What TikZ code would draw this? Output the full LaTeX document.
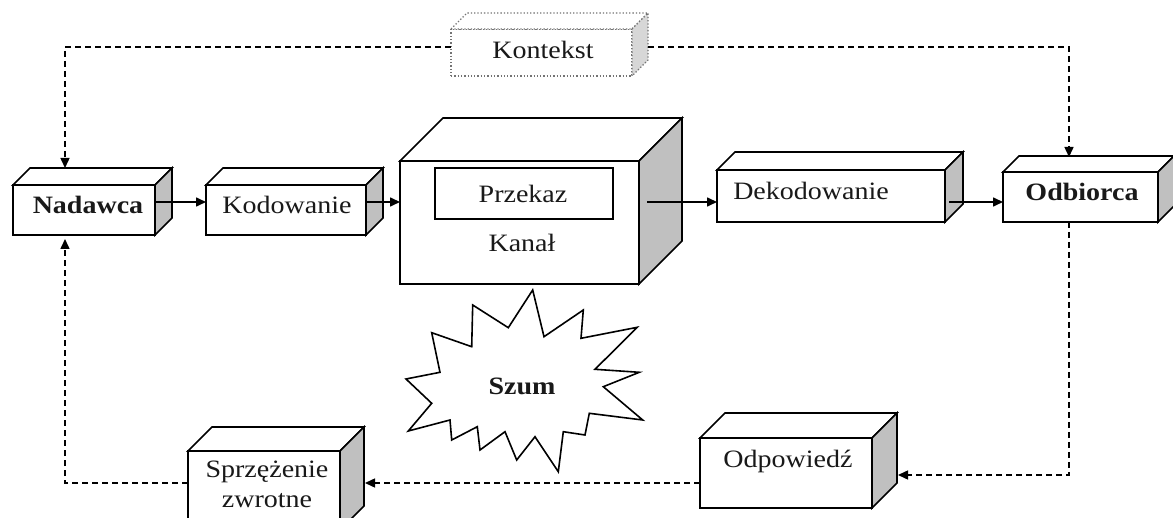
\documentclass[tikz,border=0pt]{standalone}
\usepackage{fontspec}
\setmainfont{Liberation Serif}[FakeStretch=1.12]
\usetikzlibrary{arrows.meta,calc}
\definecolor{sidegray}{RGB}{192,192,192}
\definecolor{ctxgray}{RGB}{215,215,215}
\newcommand\mkdepth[3][]{%
  \draw[edge,fill=white,#1] (#2.north west) -- ++(#3,-#3) -- ($(#2.north east)+(#3,-#3)$) -- (#2.north east) -- cycle;
  \draw[edge,fill=sidegray,#1] (#2.north east) -- ++(#3,-#3) -- ($(#2.south east)+(#3,-#3)$) -- (#2.south east) -- cycle;}
\begin{document}
\begin{tikzpicture}[x=1pt,y=-1pt,
  edge/.style={draw=black,line width=1.6pt,line join=miter},
  front/.style={edge,fill=white,inner sep=0pt,outer sep=0pt},
  ctxedge/.style={draw=black!55,line width=1.3pt,dotted},
  lbl/.style={font=\fontsize{25}{29}\selectfont,anchor=base,inner sep=0pt,text=black!90},
  arr/.style={line width=1.6pt,-{Triangle[length=10pt,width=9pt]}},
  dsh/.style={line width=1.5pt,dash pattern=on 6pt off 4pt},
  darr/.style={dsh,-{Triangle[length=10pt,width=9pt]}}]
\fill[white] (0,0) rectangle (1173,518);
\clip (0,0) rectangle (1173,518);

% Context box
\node[ctxedge,fill=white,inner sep=0pt,outer sep=0pt,minimum width=181pt,minimum height=47pt] (ktx) at (541.5,52.5) {};
\draw[ctxedge,fill=white] (ktx.north west) -- ++(16,-16) -- ($(ktx.north east)+(16,-16)$) -- (ktx.north east) -- cycle;
\draw[ctxedge,fill=ctxgray] (ktx.north east) -- ++(16,-16) -- ($(ktx.south east)+(16,-16)$) -- (ktx.south east) -- cycle;

% Main boxes
\node[front,minimum width=142pt,minimum height=50pt] (nad) at (84,210) {};
\mkdepth{nad}{17}
\node[front,minimum width=160pt,minimum height=50pt] (kod) at (286,210) {};
\mkdepth{kod}{17}
\node[front,minimum width=239pt,minimum height=123pt] (kan) at (519.5,222.5) {};
\mkdepth{kan}{43}
\node[draw=black,line width=1.3pt,inner sep=0pt,outer sep=0pt,minimum width=178pt,minimum height=51pt] (prz) at (524,193.5) {};
\node[front,minimum width=228pt,minimum height=52pt] (dek) at (831,196) {};
\mkdepth{dek}{18}
\node[front,minimum width=155pt,minimum height=50pt] (odb) at (1080.5,197) {};
\mkdepth{odb}{16}
\node[front,minimum width=172pt,minimum height=70pt] (odp) at (786,473) {};
\mkdepth{odp}{25}
\node[front,minimum width=152pt,minimum height=79pt] (spr) at (264,490.5) {};
\mkdepth{spr}{24}

% Noise star
\draw[edge,fill=white] (532.7,290) -- (544,336.7) -- (583.3,310) -- (581,338.3) -- (637.3,327.3) -- (595,369.3) -- (639.3,372.3) -- (603.3,386.7) -- (642.7,420) -- (589.3,413.3) -- (585,435) -- (563.3,431.7) -- (558.3,471.7) -- (535,436.7) -- (516.7,460) -- (505,431.7) -- (480,450) -- (477.3,426.7) -- (451.7,440) -- (450,420) -- (408.3,431) -- (431.7,403.3) -- (406,379) -- (440,372.3) -- (431.7,332.7) -- (471.7,346.7) -- (472.7,305) -- (508.3,327.7) -- cycle;

% Labels
\node[lbl,font=\fontsize{25}{29}\selectfont\bfseries] (tnad) at (88,214) {Nadawca};
\node[lbl] (tkod) at (287,214) {Kodowanie};
\node[lbl] (tprz) at (523,202.7) {Przekaz};
\node[lbl] (tkan) at (522,251.7) {Kanał};
\node[lbl] (tdek) at (811,199.3) {Dekodowanie};
\node[lbl,font=\fontsize{25}{29}\selectfont\bfseries] (todb) at (1082,201) {Odbiorca};
\node[lbl] (tktx) at (543,58.3) {Kontekst};
\node[lbl] (todp) at (788,467.3) {Odpowiedź};
\node[lbl] (tspr) at (267,478) {Sprzężenie};
\node[lbl] (tzwr) at (267,507.3) {zwrotne};
\node[lbl,font=\fontsize{25}{29}\selectfont\bfseries] (tszum) at (522,395) {Szum};

% Connector anchors
\coordinate (row) at (0,202);
\coordinate (ktxL) at ($(ktx.west)+(0,-5.5)$);
\coordinate (ktxR) at ($(ktx.east)+(16,-5.5)$);
\coordinate (nadTop) at ($(nad.north west)+(52,-17)$);
\coordinate (nadBot) at ($(nad.south west)+(52,4)$);
\coordinate (odbTop) at ($(odb.north west)+(66,-15)$);
\coordinate (odbBot) at ($(odb.south west)+(66,0)$);
\coordinate (odpR) at ($(odp.east)+(26,2)$);
\coordinate (odpL) at ($(odp.west)+(0,10)$);
\coordinate (sprR) at ($(spr.east)+(25,-7.5)$);
\coordinate (sprL) at ($(spr.west)+(0,-7.5)$);

% Solid flow
\draw[arr] (nad.east |- row) -- (kod.west |- row);
\draw[arr] (kod.east |- row) -- (kan.west |- row);
\draw[arr] ($(kan.east |- row)+(8,0)$) -- (dek.west |- row);
\draw[arr] ($(dek.east |- row)+(4,0)$) -- (odb.west |- row);

% Dashed connectors
\draw[darr] (ktxL) -| (nadTop);
\draw[darr] (ktxR) -| (odbTop);
\draw[darr] (odbBot) |- (odpR);
\draw[darr] (odpL) -- (sprR);
\draw[darr] (sprL) -| (nadBot);
\end{tikzpicture}
\end{document}
